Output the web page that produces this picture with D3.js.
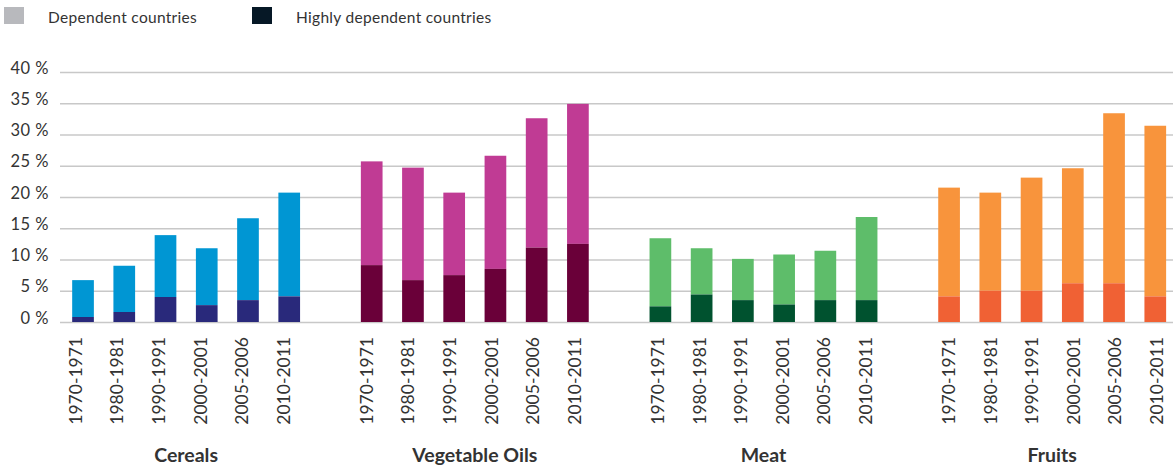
<!DOCTYPE html>
<meta charset="utf-8">
<style>
    body { margin: 0; background: #fff; }
    text { font-family: Lato, "Open Sans", sans-serif; fill: #333; }
</style>
<svg width="1173" height="466"></svg>
<script src="https://cdn.jsdelivr.net/npm/d3@7"></script>
<script>
    // data (percent of countries)
    var groups = ['Cereals', 'Vegetable Oils', 'Meat', 'Fruits'];
    var periods = ['1970-1971', '1980-1981', '1990-1991', '2000-2001', '2005-2006', '2010-2011'];
    // dependent countries (full bar height, includes the highly dependent part)
    var cerealsDependent = [6.7, 9.0, 13.9, 11.8, 16.6, 20.7];
    var oilsDependent = [25.7, 24.7, 20.7, 26.6, 32.6, 34.9];
    var meatDependent = [13.4, 11.8, 10.1, 10.8, 11.4, 16.8];
    var fruitsDependent = [21.5, 20.7, 23.1, 24.6, 33.4, 31.4];
    // highly dependent countries (dark bottom part)
    var cerealsHighly = [0.8, 1.6, 4.0, 2.7, 3.5, 4.1];
    var oilsHighly = [9.1, 6.7, 7.5, 8.5, 11.9, 12.5];
    var meatHighly = [2.5, 4.4, 3.5, 2.8, 3.5, 3.5];
    var fruitsHighly = [4.1, 5.0, 5.0, 6.2, 6.2, 4.1];
    var yTicks = [0, 5, 10, 15, 20, 25, 30, 35, 40];
    var legendLabels = ['Dependent countries', 'Highly dependent countries'];

    var dependent = [cerealsDependent, oilsDependent, meatDependent, fruitsDependent];
    var highly = [cerealsHighly, oilsHighly, meatHighly, fruitsHighly];
    var lightColors = ['#0096d3', '#c03b94', '#5ebd6a', '#f8943c'];
    var darkColors = ['#29297b', '#6a0039', '#00522f', '#f06134'];

    var svg = d3.select('svg');
    var W = +svg.attr('width');

    // flat list of bars + one empty slot between groups
    var slots = [];
    var bars = [];
    groups.forEach(function (gname, gi) {
        periods.forEach(function (p, pi) {
            var key = gname + '|' + p;
            slots.push(key);
            bars.push({ key: key, g: gi, period: p, dep: dependent[gi][pi], high: highly[gi][pi] });
        });
        if (gi < groups.length - 1) slots.push('gap' + gi);
    });

    var x = d3.scaleBand().domain(slots).range([62.4, 1175.9])
        .paddingInner(0.474).paddingOuter(0.237);
    var xLabel = d3.scalePoint().domain(slots).range([75.5, 1156.6]);
    var y = d3.scaleLinear().domain([0, 40]).range([322, 72]);

    // gridlines + y labels
    var yAxis = svg.append('g')
        .attr('transform', 'translate(60,0)')
        .call(d3.axisLeft(y).tickValues(yTicks).tickSize(-(W - 60)).tickPadding(11)
            .tickFormat(function (d) { return d + ' %'; }));
    yAxis.select('.domain').remove();
    yAxis.selectAll('line').attr('stroke', '#c8c8c8').attr('stroke-width', 1.4);
    yAxis.selectAll('text')
        .attr('font-size', 16.5)
        .attr('dy', '0.06em')
        .style('font-family', 'Lato, sans-serif')
        .style('letter-spacing', '0.5px')
        .attr('fill', '#333');

    // stacked bars
    var bg = svg.selectAll('.bar').data(bars).enter().append('g').attr('class', 'bar');
    bg.append('rect')
        .attr('x', function (d) { return x(d.key); })
        .attr('width', x.bandwidth())
        .attr('y', function (d) { return y(d.dep); })
        .attr('height', function (d) { return y(d.high) - y(d.dep); })
        .attr('fill', function (d) { return lightColors[d.g]; });
    bg.append('rect')
        .attr('x', function (d) { return x(d.key); })
        .attr('width', x.bandwidth())
        .attr('y', function (d) { return y(d.high); })
        .attr('height', function (d) { return y(0) - y(d.high); })
        .attr('fill', function (d) { return darkColors[d.g]; });

    // rotated period labels
    svg.selectAll('.plabel').data(bars).enter().append('text')
        .attr('class', 'plabel')
        .attr('transform', function (d) { return 'translate(' + xLabel(d.key) + ',337) rotate(-90)'; })
        .attr('text-anchor', 'end')
        .attr('dy', '0.36em')
        .attr('font-size', 17.5)
        .text(function (d) { return d.period; });

    // group labels
    svg.selectAll('.glabel').data(groups).enter().append('text')
        .attr('class', 'glabel')
        .attr('x', function (d) {
            return (x(d + '|' + periods[0]) + x(d + '|' + periods[periods.length - 1]) + x.bandwidth()) / 2;
        })
        .attr('y', 462)
        .attr('text-anchor', 'middle')
        .attr('font-size', 19.5)
        .attr('font-weight', 'bold')
        .text(function (d) { return d; });

    // legend
    var legendColors = ['#b8b9bd', '#061826'];
    var lg = svg.selectAll('.legend').data(legendLabels).enter().append('g')
        .attr('class', 'legend')
        .attr('transform', function (d, i) { return 'translate(' + (4 + i * 248) + ',7)'; });
    lg.append('rect').attr('width', 20).attr('height', 17)
        .attr('fill', function (d, i) { return legendColors[i]; });
    lg.append('text').attr('x', 44).attr('y', 15.5)
        .attr('font-size', 15.5)
        .style('letter-spacing', '0.3px')
        .text(function (d) { return d; });
</script>
